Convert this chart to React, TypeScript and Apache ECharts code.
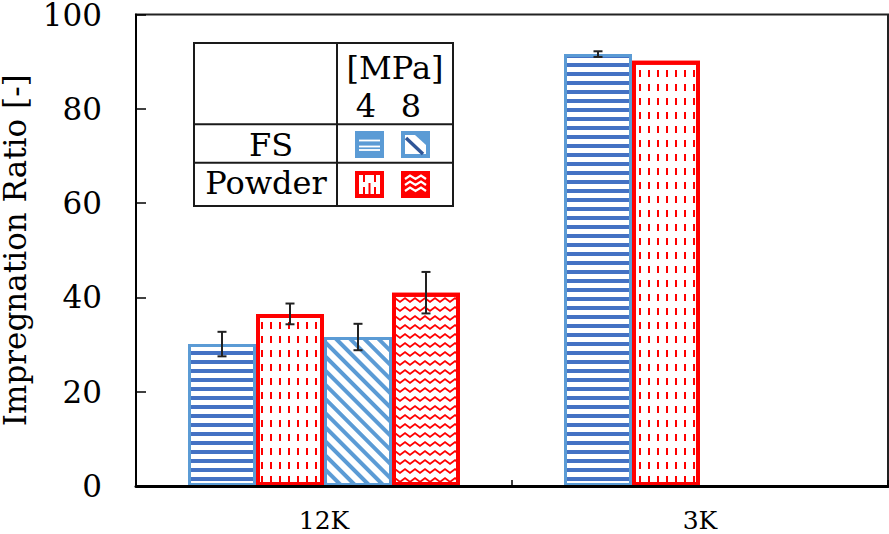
import React, { useEffect, useRef } from 'react';
import * as echarts from 'echarts';

const categories = ['12K', '3K'];
const seriesNames = ['FS 4 MPa', 'Powder 4 MPa', 'FS 8 MPa', 'Powder 8 MPa'];
const fs4Values = [30.1, 91.6];
const powder4Values = [36.5, 90.2];
const fs8Values = [31.6, null];
const powder8Values = [41.0, null];
const fs4Errors = [2.6, 0.6];
const powder4Errors = [2.2, null];
const fs8Errors = [2.8, null];
const powder8Errors = [4.4, null];
const yAxisMin = 0;
const yAxisMax = 100;
const yAxisStep = 20;
const unitLabel = '[MPa]';
const pressureLabels = ['4', '8'];
const materialLabels = ['FS', 'Powder'];
const yAxisTitle = 'Impregnation Ratio [-]';

const FONT = 'DejaVu Serif';
const BAR_W = 68;
const BLUE_EDGE = '#5B9BD5';
const BLUE_DARK = '#4472C4';
const RED = '#FF0000';
const INK = '#1a1a1a';

const valueSets = [fs4Values, powder4Values, fs8Values, powder8Values];
const errorSets = [fs4Errors, powder4Errors, fs8Errors, powder8Errors];

const barStyles: any[] = [
  {
    color: '#ffffff', borderColor: BLUE_EDGE, borderWidth: 3,
    decal: { symbol: 'rect', dashArrayX: [1, 0], dashArrayY: [4, 4.3], color: BLUE_DARK, rotation: 0, symbolSize: 1 },
  },
  {
    color: '#ffffff', borderColor: RED, borderWidth: 4,
    decal: { symbol: 'rect', dashArrayX: [2, 6.5], dashArrayY: [7, 6.5], color: RED, rotation: 0, symbolSize: 1 },
  },
  {
    color: '#ffffff', borderColor: BLUE_EDGE, borderWidth: 3,
    decal: { symbol: 'rect', dashArrayX: [1, 0], dashArrayY: [3.5, 6], color: BLUE_EDGE, rotation: Math.PI / 4, symbolSize: 1 },
  },
  {
    color: '#ffffff', borderColor: RED, borderWidth: 4,
    decal: {
      symbol: 'path://M0 4 L5 0 L10 4 L10 6.5 L5 2.5 L0 6.5 Z',
      dashArrayX: [10, 0], dashArrayY: [6, 2.5], color: RED, rotation: 0, symbolSize: 1, symbolKeepAspect: false,
    },
  },
];

function legendGraphics(): any[] {
  const L = 194, R = 453, T = 43, B = 206;
  const colX = 337, row1 = 124.3, row2 = 162.7;
  const lineStyle = { stroke: INK, lineWidth: 2 };
  const txt = (text: string, x: number, y: number) => ({
    type: 'text', x, y, z: 101,
    style: { text, fill: '#000', font: '32px ' + FONT, align: 'center', verticalAlign: 'middle' },
  });
  const els: any[] = [
    { type: 'rect', z: 100, shape: { x: L, y: T, width: R - L, height: B - T }, style: { fill: '#fff', stroke: INK, lineWidth: 2 } },
    { type: 'line', z: 101, shape: { x1: L, y1: row1, x2: R, y2: row1 }, style: lineStyle },
    { type: 'line', z: 101, shape: { x1: L, y1: row2, x2: R, y2: row2 }, style: lineStyle },
    { type: 'line', z: 101, shape: { x1: colX, y1: T, x2: colX, y2: B }, style: lineStyle },
    txt(unitLabel, 395, 68),
    txt(pressureLabels[0], 366, 106),
    txt(pressureLabels[1], 411, 106),
    txt(materialLabels[0], 271, 145),
    txt(materialLabels[1], 266, 183),
  ];
  const w = 29, h = 27;
  const x1 = 355, x2 = 401, y1 = 131, y2 = 171;
  els.push({ type: 'rect', z: 101, shape: { x: x1, y: y1, width: w, height: h }, style: { fill: BLUE_EDGE } });
  [9.5, 15.5, 19].forEach((dy) => els.push({ type: 'line', z: 103, shape: { x1: x1 + 4, y1: y1 + dy, x2: x1 + w - 4, y2: y1 + dy }, style: { stroke: '#fff', lineWidth: 1.8 } }));
  els.push({ type: 'rect', z: 101, shape: { x: x2, y: y1, width: w, height: h }, style: { fill: BLUE_EDGE } });
  els.push({ type: 'polygon', z: 102, shape: { points: [[x2 + 4, y1 + 4], [x2 + 14, y1 + 4], [x2 + w - 4, y1 + 14], [x2 + w - 4, y1 + h - 4], [x2 + 4, y1 + h - 4]] }, style: { fill: '#fff' } });
  els.push({ type: 'line', z: 103, shape: { x1: x2 + 5, y1: y1 + 7, x2: x2 + w - 7, y2: y1 + h - 4 }, style: { stroke: '#2F5597', lineWidth: 3.5 } });
  els.push({ type: 'rect', z: 101, shape: { x: x1, y: y2, width: w, height: h }, style: { fill: RED } });
  els.push({ type: 'rect', z: 102, shape: { x: x1 + 4, y: y2 + 4, width: w - 8, height: h - 8 }, style: { fill: '#fff' } });
  [[x1 + 9, y2 + 4, y2 + 11], [x1 + 14.5, y2 + 12, y2 + h - 4], [x1 + 20, y2 + 4, y2 + 11], [x1 + 9, y2 + 16, y2 + h - 4], [x1 + 20, y2 + 16, y2 + h - 4]].forEach(([x, a, b]) =>
    els.push({ type: 'line', z: 103, shape: { x1: x, y1: a, x2: x, y2: b }, style: { stroke: RED, lineWidth: 2 } }));
  els.push({ type: 'rect', z: 101, shape: { x: x2, y: y2, width: w, height: h }, style: { fill: RED } });
  [8, 14, 20].forEach((dy) => els.push({
    type: 'polyline', z: 102,
    shape: { points: [[x2 + 4, y2 + dy], [x2 + 9, y2 + dy - 3.5], [x2 + 14.5, y2 + dy], [x2 + 20, y2 + dy - 3.5], [x2 + w - 4, y2 + dy]] },
    style: { stroke: '#fff', lineWidth: 2.2, fill: null },
  }));
  return els;
}

export default function App() {
  const ref = useRef<HTMLDivElement>(null);
  useEffect(() => {
    if (!ref.current) return;
    const chart = echarts.init(ref.current, null, { renderer: 'svg' });
    const errData: any[] = [];
    valueSets.forEach((vals, s) => vals.forEach((v, c) => {
      const e = errorSets[s][c];
      if (v != null && e != null) errData.push([c, s, v, e]);
    }));
    const barSeries = valueSets.map((vals, s) => ({
      type: 'bar',
      name: seriesNames[s],
      data: vals,
      barWidth: BAR_W,
      barGap: '0%',
      itemStyle: barStyles[s],
      z: 2,
    }));
    chart.setOption({
      animation: false,
      backgroundColor: '#ffffff',
      textStyle: { fontFamily: FONT },
      grid: {
        left: 136, right: 1, top: 14.5, bottom: 48, containLabel: false, outerBoundsMode: 'none',
        show: true, borderColor: '#222', borderWidth: 2, backgroundColor: 'transparent',
      },
      xAxis: {
        type: 'category',
        data: categories,
        axisLine: { show: true, lineStyle: { color: '#000', width: 3 } },
        axisTick: { show: true, inside: true, length: 6, lineStyle: { color: '#000', width: 1.5 } },
        axisLabel: { color: '#000', fontFamily: FONT, fontSize: 25, margin: 22 },
        z: 10,
      },
      yAxis: {
        type: 'value',
        min: yAxisMin,
        max: yAxisMax,
        interval: yAxisStep,
        name: yAxisTitle,
        nameLocation: 'middle',
        nameGap: 95,
        nameTextStyle: { color: '#000', fontFamily: FONT, fontSize: 31, lineHeight: 34 },
        axisLine: { show: true, lineStyle: { color: '#000', width: 2 } },
        axisTick: { show: true, inside: true, length: 10, lineStyle: { color: '#000', width: 1.5 } },
        axisLabel: { color: '#000', fontFamily: FONT, fontSize: 31, lineHeight: 28, margin: 34 },
        splitLine: { show: false },
      },
      series: [
        ...barSeries,
        {
          type: 'custom',
          name: 'error',
          encode: { x: 0, y: 2 },
          data: errData,
          z: 5,
          renderItem: (params: any, api: any) => {
            const c = api.value(0), s = api.value(1), v = api.value(2), e = api.value(3);
            const center = api.coord([c, v]);
            const x = center[0] + (s - 1.5) * BAR_W;
            const top = api.coord([c, v + e])[1];
            const bot = api.coord([c, v - e])[1];
            const cap = 4.5;
            const style = { stroke: '#222', lineWidth: 2 };
            return {
              type: 'group',
              children: [
                { type: 'line', shape: { x1: x, y1: top, x2: x, y2: bot }, style },
                { type: 'line', shape: { x1: x - cap, y1: top, x2: x + cap, y2: top }, style },
                { type: 'line', shape: { x1: x - cap, y1: bot, x2: x + cap, y2: bot }, style },
              ],
            };
          },
        },
      ],
      graphic: legendGraphics(),
    });
    return () => chart.dispose();
  }, []);
  return <div ref={ref} style={{ width: 889, height: 534, position: 'absolute', left: 0, top: 0 }} />;
}
